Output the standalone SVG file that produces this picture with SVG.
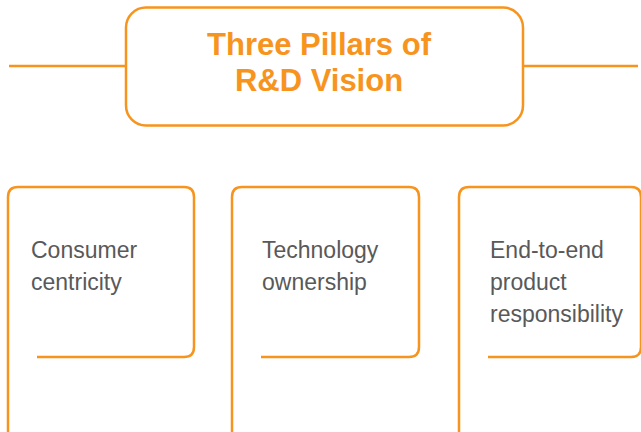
<svg xmlns="http://www.w3.org/2000/svg" width="641" height="432" viewBox="0 0 641 432">
<style>
.o{fill:none;stroke:#F7941D;stroke-width:2.5}
.t{font-family:"Liberation Sans",Arial,sans-serif;font-weight:bold;font-size:31px;fill:#F7941D;text-anchor:middle}
.p{font-family:"Liberation Sans",Arial,sans-serif;font-size:23px;fill:#595959}
</style>
<rect width="641" height="432" fill="#ffffff"/>
<g id="connectors">
<line class="o" x1="9" y1="66" x2="126" y2="66"/>
<line class="o" x1="523" y1="66" x2="638" y2="66"/>
</g>
<g id="title">
<rect class="o" x="126" y="7.5" width="397" height="118" rx="20"/>
<text class="t" x="319" y="55">Three Pillars of</text>
<text class="t" x="319" y="91">R&amp;D Vision</text>
</g>
<g id="pillar1">
<path class="o" d="M8 432 V197 Q8 187 18 187 H184 Q194 187 194 197 V347 Q194 357 184 357 H37"/>
<text class="p" x="31" y="258">Consumer</text>
<text class="p" x="31" y="290">centricity</text>
</g>
<g id="pillar2">
<path class="o" d="M232 432 V197 Q232 187 242 187 H409 Q419 187 419 197 V347 Q419 357 409 357 H261"/>
<text class="p" x="262" y="258">Technology</text>
<text class="p" x="262" y="290">ownership</text>
</g>
<g id="pillar3">
<path class="o" d="M459 432 V197 Q459 187 469 187 H631 Q641 187 641 197 V347 Q641 357 631 357 H488"/>
<text class="p" x="490" y="258">End-to-end</text>
<text class="p" x="490" y="290">product</text>
<text class="p" x="490" y="322">responsibility</text>
</g>
</svg>
